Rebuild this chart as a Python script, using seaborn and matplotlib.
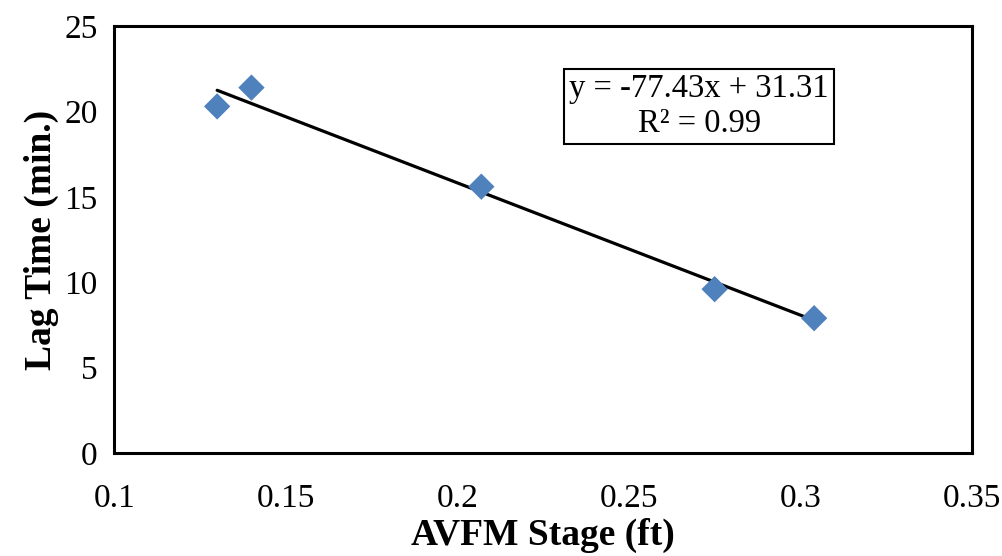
import numpy as np
import pandas as pd
import seaborn as sns
import matplotlib.pyplot as plt

# values
stage_ft = [0.130, 0.140, 0.207, 0.275, 0.304]
lag_min = [20.3, 21.4, 15.6, 9.6, 7.9]
slope = -77.43
intercept = 31.31
r_squared = 0.99

sns.set_style("white")
plt.rcParams['font.family'] = ['Liberation Serif', 'DejaVu Serif']
plt.rcParams['text.color'] = 'black'
plt.rcParams['axes.labelcolor'] = 'black'
plt.rcParams['xtick.color'] = 'black'
plt.rcParams['ytick.color'] = 'black'

df = pd.DataFrame({'stage': stage_ft, 'lag': lag_min})
trend = pd.DataFrame({'stage': [min(stage_ft), max(stage_ft)]})
trend['lag'] = slope * trend['stage'] + intercept

fig = plt.figure(figsize=(10.02, 5.56), dpi=100)
ax = fig.add_axes([0.114, 0.185, 0.856, 0.768])

sns.lineplot(x='stage', y='lag', data=trend, color='black', linewidth=2.3, ax=ax)
sns.scatterplot(x='stage', y='lag', data=df, marker='D', s=180, color='#4F81BD',
                edgecolor='none', ax=ax, zorder=3)

ax.set_xlim(0.1, 0.35)
ax.set_ylim(0, 25)
ax.set_xticks([0.1, 0.15, 0.2, 0.25, 0.3, 0.35])
ax.set_xticklabels(['0.1', '0.15', '0.2', '0.25', '0.3', '0.35'])
ax.set_yticks([0, 5, 10, 15, 20, 25])
ax.tick_params(axis='both', direction='in', length=7, width=2, labelsize=24)
ax.tick_params(axis='x', pad=22)
ax.tick_params(axis='y', pad=12)
for sp in ax.spines.values():
    sp.set_linewidth(2.2)
    sp.set_color('black')

ax.set_xlabel('AVFM Stage (ft)', fontsize=27, fontweight='bold', labelpad=3)
ax.set_ylabel('Lag Time (min.)', fontsize=27, fontweight='bold', labelpad=4)

ax.text(0.2705, 20.3, f'y = {slope}x + {intercept}\nR² = {r_squared}',
        ha='center', va='center', fontsize=23.5, linespacing=1.2,
        bbox=dict(boxstyle='square,pad=0.15', facecolor='white', edgecolor='black', linewidth=1.5))

fig.savefig('out.png', dpi=100)
